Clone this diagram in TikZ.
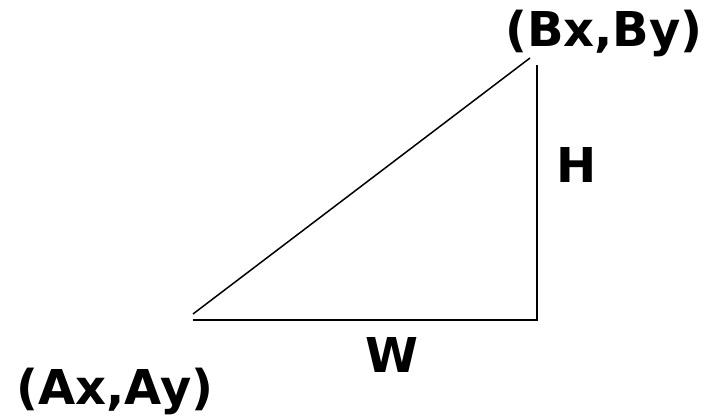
\documentclass[tikz,border=0pt]{standalone}
\usepackage{fontspec}
\newfontfamily\verdfont{DejaVu Sans}
\usepackage{tikz}
\usetikzlibrary{positioning, calc}

\begin{document}
\begin{tikzpicture}[
    x=1pt, y=1pt,
    lbl/.style={inner sep=0pt, font=\verdfont\bfseries\fontsize{48}{56}\selectfont},
    side/.style={draw, black, line width=2.4pt},
    hyp/.style={draw, black, line width=1.5pt}
]
    \useasboundingbox (0,0) rectangle (705,418);
    \coordinate (a) at (193,418-320);
    \coordinate (c) at (537,418-320);
    \coordinate (b) at (537,418-65);
    \coordinate (ah) at (193,418-314);
    \coordinate (bh) at (530,418-58);

    \draw[hyp] (ah) -- (bh);
    \draw[side] (a) -- (c) -- (b);

    \node[lbl] (bxy) at (604,418-33) {(Bx,By)};
    \node[lbl] (axy) at (115,418-391) {(Ax,Ay)};
    \node[lbl] (hlab) at (577,418-165) {H};
    \node[lbl] (wlab) at (392,418-355) {W};
\end{tikzpicture}
\end{document}
